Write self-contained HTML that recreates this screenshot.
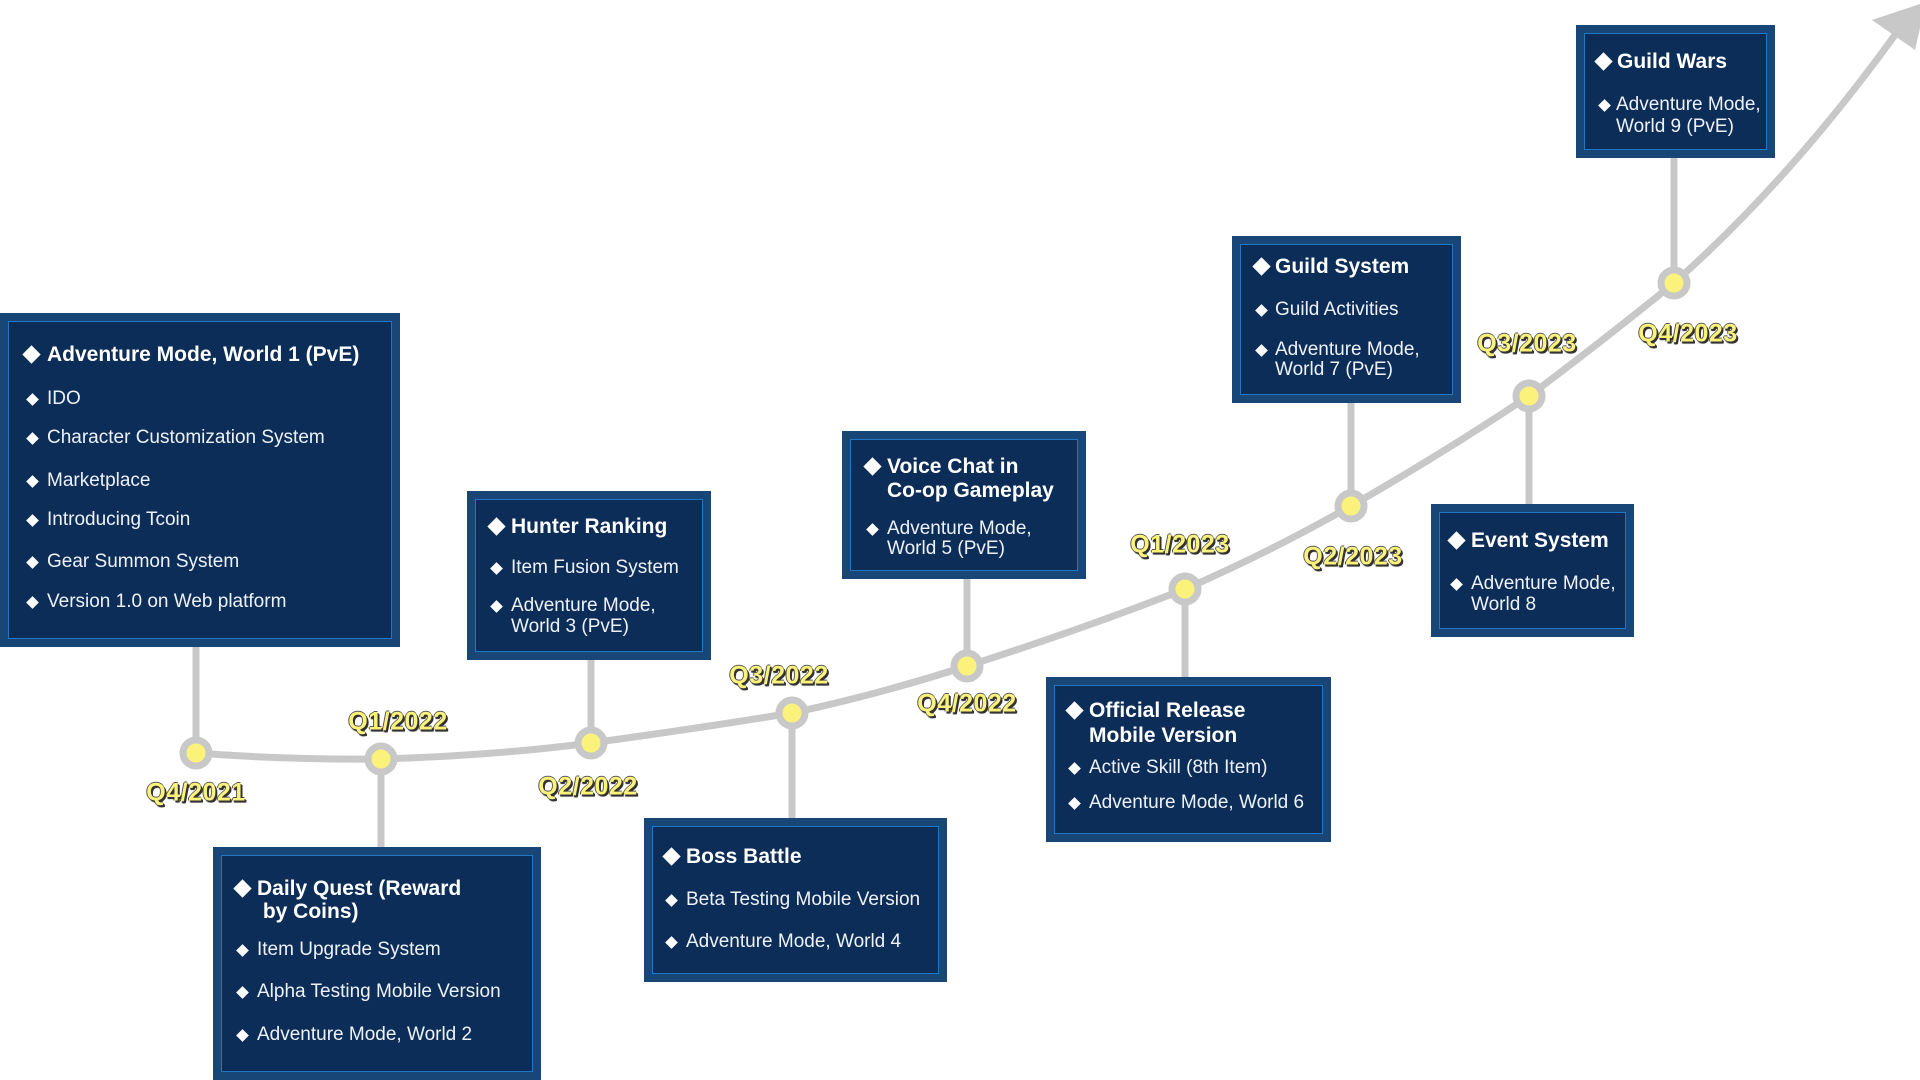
<!DOCTYPE html>
<html><head><meta charset="utf-8"><style>
body{margin:0;width:1920px;height:1080px;background:#fff;position:relative;overflow:hidden;font-family:"Liberation Sans",sans-serif}
.b{position:absolute;background:#0c2d58;border:8px solid #184676;box-sizing:border-box}
.b::after{content:"";position:absolute;left:0;top:0;right:0;bottom:0;border:1px solid #1f78c4}
.t{position:absolute;height:26px;line-height:26px;white-space:nowrap;color:#fff}
.h{font-weight:bold;font-size:21px}
.i{font-size:19px;color:#eef2f8}
.d{position:absolute;background:#fff;transform:rotate(45deg)}
.l{position:absolute;font-weight:bold;font-size:25px;color:#fbf27c;white-space:nowrap;transform:translate(-50%,-50%);text-shadow:1px 1px 0 #333,2px 2px 0 #333,-1px 0 0 #555,0 -1px 0 #555,1px 2px 1px #222;letter-spacing:0.5px}
</style></head><body>
<svg width="1920" height="1080" style="position:absolute;left:0;top:0">
<g stroke="#c8c8c8" stroke-width="7" fill="none" stroke-linecap="round" stroke-linejoin="round">
<path d="M196,753 Q290,760 381,759 Q490,756 591,743 Q700,728 792,713 Q880,694 967,666 Q1080,630 1185,589 Q1270,552 1351,506 Q1440,455 1529,396 Q1600,343 1674,283 Q1790,180 1895,35"/>
<line x1="196" y1="647" x2="196" y2="753"/>
<line x1="591" y1="660" x2="591" y2="743"/>
<line x1="967" y1="579" x2="967" y2="666"/>
<line x1="1351" y1="403" x2="1351" y2="506"/>
<line x1="1674" y1="158" x2="1674" y2="283"/>
<line x1="381" y1="759" x2="381" y2="847"/>
<line x1="792" y1="713" x2="792" y2="818"/>
<line x1="1185" y1="589" x2="1185" y2="677"/>
<line x1="1529" y1="396" x2="1529" y2="504"/>
</g>
<polygon points="1926,2 1872,20 1915,50" fill="#c8c8c8"/>
<g fill="#fbf27c" stroke="#c8c8c8" stroke-width="7">
<circle cx="196" cy="753" r="13"/><circle cx="381" cy="759" r="13"/><circle cx="591" cy="743" r="13"/>
<circle cx="792" cy="713" r="13"/><circle cx="967" cy="666" r="13"/><circle cx="1185" cy="589" r="13"/>
<circle cx="1351" cy="506" r="13"/><circle cx="1529" cy="396" r="13"/><circle cx="1674" cy="283" r="13"/>
</g>
</svg>

<div class="b" style="left:0;top:313px;width:400px;height:334px"></div>
<div class="b" style="left:467px;top:491px;width:244px;height:169px"></div>
<div class="b" style="left:842px;top:431px;width:244px;height:148px"></div>
<div class="b" style="left:1232px;top:236px;width:229px;height:167px"></div>
<div class="b" style="left:1576px;top:25px;width:199px;height:133px"></div>
<div class="b" style="left:213px;top:847px;width:328px;height:233px"></div>
<div class="b" style="left:644px;top:818px;width:303px;height:164px"></div>
<div class="b" style="left:1046px;top:677px;width:285px;height:165px"></div>
<div class="b" style="left:1431px;top:504px;width:203px;height:133px"></div>

<div class="d" style="left:25px;top:348px;width:13px;height:13px"></div>
<div class="t h" style="left:47px;top:342px">Adventure Mode, World 1 (PvE)</div>
<div class="d" style="left:28px;top:395px;width:9px;height:9px"></div><div class="t i" style="left:47px;top:386px">IDO</div>
<div class="d" style="left:28px;top:434px;width:9px;height:9px"></div><div class="t i" style="left:47px;top:425px">Character Customization System</div>
<div class="d" style="left:28px;top:477px;width:9px;height:9px"></div><div class="t i" style="left:47px;top:468px">Marketplace</div>
<div class="d" style="left:28px;top:516px;width:9px;height:9px"></div><div class="t i" style="left:47px;top:507px">Introducing Tcoin</div>
<div class="d" style="left:28px;top:558px;width:9px;height:9px"></div><div class="t i" style="left:47px;top:549px">Gear Summon System</div>
<div class="d" style="left:28px;top:598px;width:9px;height:9px"></div><div class="t i" style="left:47px;top:589px">Version 1.0 on Web platform</div>

<div class="d" style="left:490px;top:520px;width:13px;height:13px"></div>
<div class="t h" style="left:511px;top:514px">Hunter Ranking</div>
<div class="d" style="left:492px;top:564px;width:9px;height:9px"></div><div class="t i" style="left:511px;top:555px">Item Fusion System</div>
<div class="d" style="left:492px;top:602px;width:9px;height:9px"></div><div class="t i" style="left:511px;top:593px">Adventure Mode,</div>
<div class="t i" style="left:511px;top:614px">World 3 (PvE)</div>

<div class="d" style="left:866px;top:460px;width:13px;height:13px"></div>
<div class="t h" style="left:887px;top:454px">Voice Chat in</div>
<div class="t h" style="left:887px;top:478px">Co-op Gameplay</div>
<div class="d" style="left:868px;top:525px;width:9px;height:9px"></div><div class="t i" style="left:887px;top:516px">Adventure Mode,</div>
<div class="t i" style="left:887px;top:536px">World 5 (PvE)</div>

<div class="d" style="left:1255px;top:260px;width:13px;height:13px"></div>
<div class="t h" style="left:1275px;top:254px">Guild System</div>
<div class="d" style="left:1257px;top:306px;width:9px;height:9px"></div><div class="t i" style="left:1275px;top:297px">Guild Activities</div>
<div class="d" style="left:1257px;top:346px;width:9px;height:9px"></div><div class="t i" style="left:1275px;top:337px">Adventure Mode,</div>
<div class="t i" style="left:1275px;top:357px">World 7 (PvE)</div>

<div class="d" style="left:1597px;top:55px;width:13px;height:13px"></div>
<div class="t h" style="left:1617px;top:49px">Guild Wars</div>
<div class="d" style="left:1600px;top:101px;width:9px;height:9px"></div><div class="t i" style="left:1616px;top:92px">Adventure Mode,</div>
<div class="t i" style="left:1616px;top:114px">World 9 (PvE)</div>

<div class="d" style="left:236px;top:882px;width:13px;height:13px"></div>
<div class="t h" style="left:257px;top:876px">Daily Quest (Reward</div>
<div class="t h" style="left:257px;top:899px">&nbsp;by Coins)</div>
<div class="d" style="left:238px;top:946px;width:9px;height:9px"></div><div class="t i" style="left:257px;top:937px">Item Upgrade System</div>
<div class="d" style="left:238px;top:988px;width:9px;height:9px"></div><div class="t i" style="left:257px;top:979px">Alpha Testing Mobile Version</div>
<div class="d" style="left:238px;top:1031px;width:9px;height:9px"></div><div class="t i" style="left:257px;top:1022px">Adventure Mode, World 2</div>

<div class="d" style="left:665px;top:850px;width:13px;height:13px"></div>
<div class="t h" style="left:686px;top:844px">Boss Battle</div>
<div class="d" style="left:667px;top:896px;width:9px;height:9px"></div><div class="t i" style="left:686px;top:887px">Beta Testing Mobile Version</div>
<div class="d" style="left:667px;top:938px;width:9px;height:9px"></div><div class="t i" style="left:686px;top:929px">Adventure Mode, World 4</div>

<div class="d" style="left:1068px;top:704px;width:13px;height:13px"></div>
<div class="t h" style="left:1089px;top:698px">Official Release</div>
<div class="t h" style="left:1089px;top:723px">Mobile Version</div>
<div class="d" style="left:1070px;top:764px;width:9px;height:9px"></div><div class="t i" style="left:1089px;top:755px">Active Skill (8th Item)</div>
<div class="d" style="left:1070px;top:799px;width:9px;height:9px"></div><div class="t i" style="left:1089px;top:790px">Adventure Mode, World 6</div>

<div class="d" style="left:1450px;top:534px;width:13px;height:13px"></div>
<div class="t h" style="left:1471px;top:528px">Event System</div>
<div class="d" style="left:1452px;top:580px;width:9px;height:9px"></div><div class="t i" style="left:1471px;top:571px">Adventure Mode,</div>
<div class="t i" style="left:1471px;top:592px">World 8</div>

<div class="l" style="left:196px;top:793px">Q4/2021</div>
<div class="l" style="left:398px;top:722px">Q1/2022</div>
<div class="l" style="left:588px;top:787px">Q2/2022</div>
<div class="l" style="left:779px;top:676px">Q3/2022</div>
<div class="l" style="left:967px;top:704px">Q4/2022</div>
<div class="l" style="left:1180px;top:545px">Q1/2023</div>
<div class="l" style="left:1353px;top:557px">Q2/2023</div>
<div class="l" style="left:1527px;top:344px">Q3/2023</div>
<div class="l" style="left:1688px;top:334px">Q4/2023</div>
</body></html>
